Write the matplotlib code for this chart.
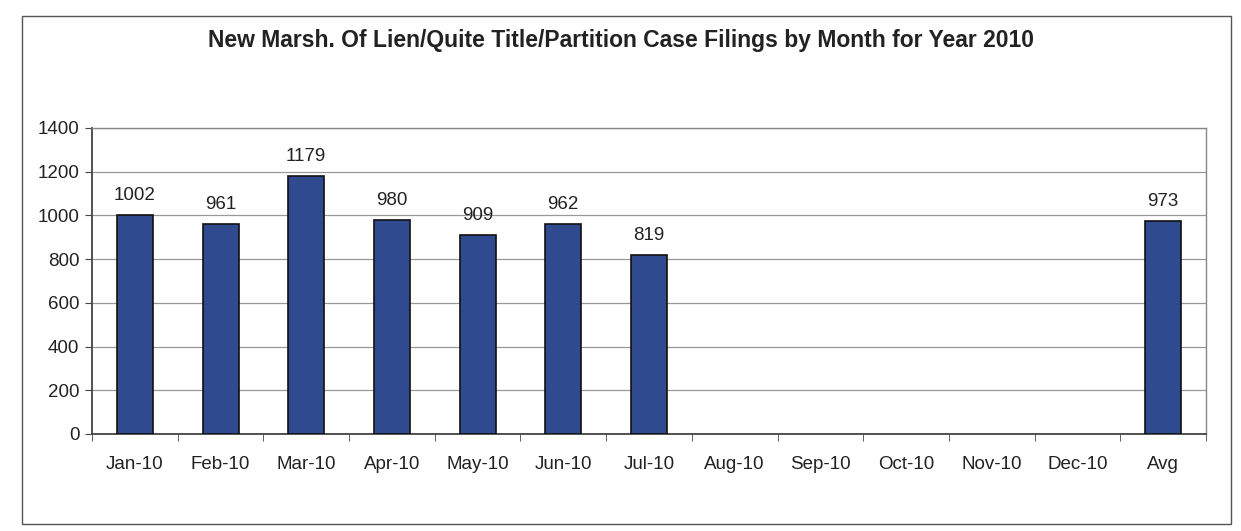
import matplotlib
matplotlib.use("Agg")
import matplotlib.pyplot as plt
from matplotlib.patches import Rectangle

categories = ["Jan-10", "Feb-10", "Mar-10", "Apr-10", "May-10", "Jun-10", "Jul-10",
              "Aug-10", "Sep-10", "Oct-10", "Nov-10", "Dec-10", "Avg"]
values = [1002, 961, 1179, 980, 909, 962, 819, 0, 0, 0, 0, 0, 973]
labels = ["1002", "961", "1179", "980", "909", "962", "819", "", "", "", "", "", "973"]
yticks = [0, 200, 400, 600, 800, 1000, 1200, 1400]
title = "New Marsh. Of Lien/Quite Title/Partition Case Filings by Month for Year 2010"

plt.rcParams['font.family'] = ['Liberation Sans', 'DejaVu Sans']

W, H = 1241, 531
fig = plt.figure(figsize=(W / 100, H / 100), dpi=100)
fig.patch.set_facecolor("white")

# outer chart border
fig.add_artist(Rectangle((22 / W, 1 - 524 / H), (1231 - 22) / W, (524 - 16) / H,
                         transform=fig.transFigure, fill=False,
                         edgecolor="#555555", linewidth=1.0))

ax = fig.add_axes([92 / W, 1 - 434 / H, (1206 - 92) / W, (434 - 128) / H])
x = list(range(len(categories)))
lws = [1.2 if v > 0 else 0 for v in values]
ax.bar(x, values, width=0.42, color="#2F4A8E", edgecolor="#111111", linewidth=lws, zorder=3)

fs = 13.5
ax.set_xlim(-0.5, len(categories) - 0.5)
ax.set_ylim(0, 1400)
ax.set_yticks(yticks)
ax.set_yticklabels([str(t) for t in yticks], fontsize=fs, color="#222222")
ax.set_xticks(x)
ax.set_xticklabels(categories, fontsize=fs, color="#222222")
ax.set_xticks([i + 0.5 for i in range(-1, len(categories))], minor=True)
ax.tick_params(axis="x", which="major", length=0, pad=16)
ax.tick_params(axis="x", which="minor", length=5, direction="out", color="#444444")
ax.tick_params(axis="y", length=5, direction="out", color="#444444", pad=4)

ax.grid(axis="y", color="#999999", linewidth=0.9, zorder=0)
for s in ["top", "right"]:
    ax.spines[s].set_color("#888888")
    ax.spines[s].set_linewidth(1.0)
for s in ["left", "bottom"]:
    ax.spines[s].set_color("#444444")
    ax.spines[s].set_linewidth(1.3)

for xi, v, lab in zip(x, values, labels):
    if lab:
        ax.text(xi, v + 50, lab, ha="center", va="bottom", fontsize=fs, color="#222222")

fig.text(621 / W, 1 - 40 / H, title, ha="center", va="center",
         fontsize=16.5, fontweight="bold", color="#222222")

fig.savefig("out.png", dpi=100)
